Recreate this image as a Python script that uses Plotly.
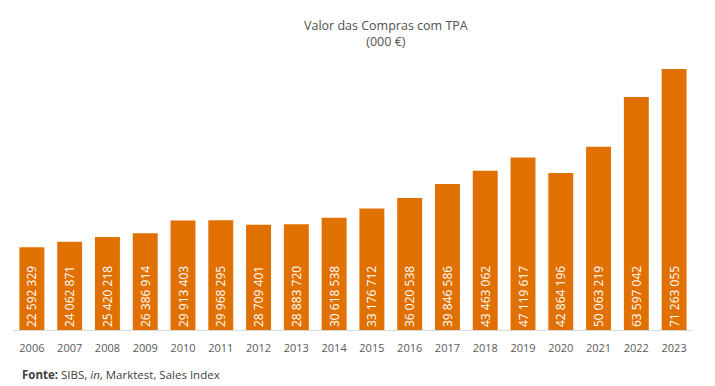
import plotly.graph_objects as go

years = [str(y) for y in range(2006, 2024)]
values = [22592329, 24062871, 25420218, 26386914, 29913403, 29968295, 28709401, 28883720,
          30618538, 33176712, 36020538, 39846586, 43463062, 47119617, 42864196, 50063219,
          63597042, 71263055]
labels = [f"{v:,}".replace(",", " ") for v in values]

W, H = 715, 386
L, R, T, B = 13, 22, 60, 56

fig = go.Figure(go.Bar(
    x=years, y=values, text=labels,
    marker=dict(color="#E07000", line=dict(width=0)),
    textposition="inside", insidetextanchor="start", textangle=-90,
    textfont=dict(color="white", size=12, family="Open Sans"),
    cliponaxis=False, hoverinfo="skip",
))

fig.update_layout(
    width=W, height=H, margin=dict(l=L, r=R, t=T, b=B),
    paper_bgcolor="white", plot_bgcolor="white",
    bargap=0.34, showlegend=False,
    font=dict(family="Open Sans", color="#595959"),
    uniformtext=dict(minsize=8, mode="show"),
)
fig.update_xaxes(showline=True, linecolor="#D9D9D9", linewidth=1, ticks="",
                 tickfont=dict(size=11, color="#595959", family="Open Sans"),
                 ticklabelstandoff=8, showgrid=False)
fig.update_yaxes(range=[0, 73.72e6], visible=False, showgrid=False)

fig.add_annotation(text="Valor das Compras com TPA<br>(000 €)", xref="paper", yref="paper",
                   x=(386 - L) / (W - L - R), y=1 + (T - 15) / (H - T - B), yanchor="top",
                   showarrow=False, align="center",
                   font=dict(size=12.5, color="#505050", family="Open Sans"))
fig.add_annotation(text="<b>Fonte:</b> SIBS, <i>in</i>, Marktest, Sales Index", xref="paper", yref="paper",
                   x=(20 - L) / (W - L - R), xanchor="left", y=-(374 - (H - B)) / (H - T - B), yanchor="middle",
                   showarrow=False, font=dict(size=11.5, color="#404040", family="Open Sans"))

fig.write_html("out.html", config={"displayModeBar": False},
               post_script="document.body.style.margin='0';document.body.style.overflow='hidden';")
